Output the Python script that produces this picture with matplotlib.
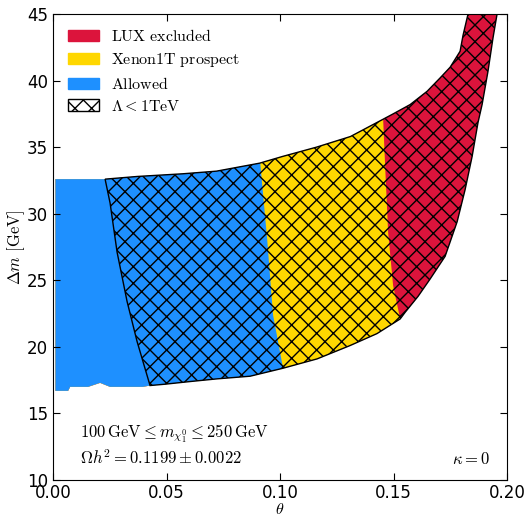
import numpy as np
import matplotlib
matplotlib.use("Agg")
import matplotlib.pyplot as plt
from matplotlib.patches import Polygon, Patch

plt.rcParams['mathtext.fontset'] = 'cm'
plt.rcParams['hatch.linewidth'] = 1.0

# outer boundary of the allowed band (theta, delta m)
top_x = [0.001, 0.023, 0.037, 0.057, 0.072, 0.091, 0.101, 0.116, 0.131, 0.1454,
         0.1498, 0.1573, 0.1648, 0.1705, 0.1749, 0.1793, 0.1806, 0.1828]
top_y = [32.6, 32.6, 32.8, 33.0, 33.2, 33.8, 34.3, 35.0, 35.8, 37.1,
         37.5, 38.2, 39.2, 40.2, 41.0, 42.2, 43.4, 45.0]
right_x = [0.1956, 0.1938, 0.1916, 0.1890, 0.1872, 0.1846, 0.1815, 0.1780,
           0.1727, 0.1661, 0.1608, 0.1551, 0.1529]
right_y = [45.0, 43.2, 40.7, 38.2, 36.85, 34.3, 31.8, 29.4,
           26.8, 25.1, 23.8, 22.6, 22.1]
bot_x = [0.1427, 0.1308, 0.1163, 0.1013, 0.0868, 0.0722, 0.0604, 0.0493, 0.0427,
         0.0396, 0.0251, 0.0207, 0.0154, 0.0075, 0.0066, 0.001]
bot_y = [21.0, 20.1, 19.1, 18.4, 17.8, 17.6, 17.4, 17.2, 17.1,
         17.0, 17.0, 17.3, 17.0, 17.0, 16.7, 16.7]

# dividing curves (top -> bottom)
lam_x = [0.0229, 0.0251, 0.0282, 0.0326, 0.0370, 0.0427]   # Lambda < 1 TeV edge
lam_y = [32.6, 30.8, 27.1, 23.4, 20.4, 17.1]
xen_x = [0.0912, 0.0943, 0.0969, 0.1013]                    # allowed / Xenon1T
xen_y = [33.9, 28.1, 22.4, 18.4]
lux_x = [0.1454, 0.1463, 0.1476, 0.1498, 0.1529]            # Xenon1T / LUX
lux_y = [37.1, 33.5, 28.6, 24.6, 22.1]

red = '#DC143C'
yellow = '#FFD700'
blue = '#1E90FF'

fig = plt.figure(figsize=(5.26, 5.19), dpi=100)
ax = fig.add_axes([0.101, 0.075, 0.863, 0.898])

outer = np.column_stack([top_x + right_x + bot_x, top_y + right_y + bot_y])
outer_patch = Polygon(outer, closed=True, facecolor=red, edgecolor='none')
ax.add_patch(outer_patch)


def left_of(cx, cy):
    pts = [(cx[0], 60)] + list(zip(cx, cy)) + [(cx[-1], 0), (-1, 0), (-1, 60)]
    return np.array(pts)


p = Polygon(left_of(lux_x, lux_y), closed=True, facecolor=yellow, edgecolor='none')
ax.add_patch(p)
p.set_clip_path(outer_patch)
p = Polygon(left_of(xen_x, xen_y), closed=True, facecolor=blue, edgecolor='none')
ax.add_patch(p)
p.set_clip_path(outer_patch)

# hatched region: right of the Lambda curve
hatch_pts = list(zip(lam_x, lam_y))[::-1]  # bottom -> top
hatch_pts += [(x, y) for x, y in zip(top_x, top_y) if x > lam_x[0]]
hatch_pts += list(zip(right_x, right_y))
hatch_pts += [(x, y) for x, y in zip(bot_x, bot_y) if x > lam_x[-1]]
ax.add_patch(Polygon(np.array(hatch_pts), closed=True, facecolor='none',
                     edgecolor='black', hatch='xx', lw=1.0))

handles = [Patch(facecolor=red, edgecolor=red, label=r'$\mathrm{LUX\ excluded}$'),
           Patch(facecolor=yellow, edgecolor=yellow, label=r'$\mathrm{Xenon1T\ prospect}$'),
           Patch(facecolor=blue, edgecolor=blue, label=r'$\mathrm{Allowed}$'),
           Patch(facecolor='white', edgecolor='black', hatch='xx',
                 label=r'$\Lambda < 1\mathrm{TeV}$')]
ax.legend(handles=handles, loc='upper left', frameon=False, fontsize=11.5,
          labelspacing=0.42, handletextpad=0.75)

ax.text(0.012, 13.5, r'$100\,\mathrm{GeV} \leq m_{\chi_1^0} \leq 250\,\mathrm{GeV}$',
        fontsize=12, va='center')
ax.text(0.012, 11.6, r'$\Omega h^2 = 0.1199 \pm 0.0022$', fontsize=12, va='center')
ax.text(0.1925, 11.6, r'$\kappa = 0$', fontsize=12, va='center', ha='right')

ax.set_xlim(0, 0.20)
ax.set_ylim(10, 45)
ax.set_xticks([0.0, 0.05, 0.10, 0.15, 0.20])
ax.set_xticklabels(['0.00', '0.05', '0.10', '0.15', '0.20'])
ax.tick_params(direction='in', top=True, right=True, labelsize=12, length=5)
ax.tick_params(axis='x', pad=2.5)
ax.set_xlabel(r'$\theta$', fontsize=11.5, labelpad=0)
ax.set_ylabel(r'$\Delta m\ [\mathrm{GeV}]$', fontsize=12, labelpad=0)

fig.savefig('out.png', dpi=100)
